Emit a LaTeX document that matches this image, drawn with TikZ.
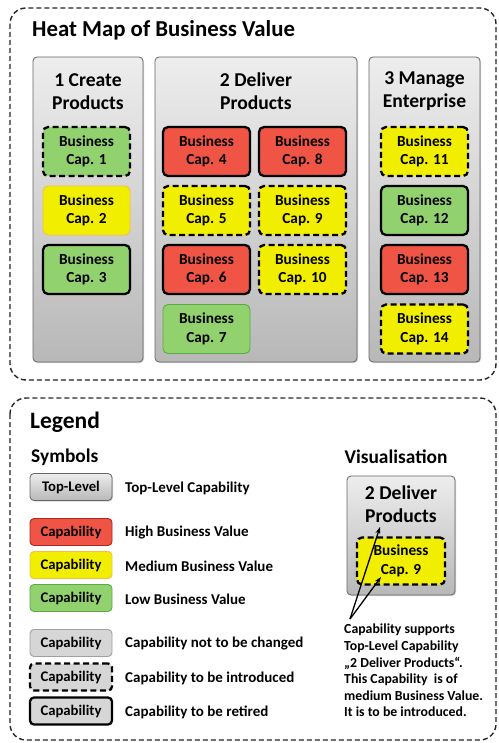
\documentclass[tikz,border=0pt]{standalone}
\usepackage{fontspec}
\setmainfont{Carlito}
\usetikzlibrary{arrows.meta,shadows}
\definecolor{hvred}{RGB}{240,84,68}
\definecolor{hvredline}{RGB}{170,40,30}
\definecolor{mvyellow}{RGB}{242,238,0}
\definecolor{mvyellowline}{RGB}{245,190,70}
\definecolor{lvgreen}{RGB}{146,210,110}
\definecolor{lvgreenline}{RGB}{90,170,70}
\definecolor{capgray}{RGB}{214,214,214}
\definecolor{capgrayline}{RGB}{160,160,160}
\tikzset{
  fs/.style n args={2}{font=\bfseries\fontsize{#1}{#2}\selectfont},
  frame/.style={draw=black!85, line width=1.4pt, dash pattern=on 5pt off 3pt, rounded corners=16pt},
  column/.style={draw=black!60, line width=0.8pt, rounded corners=4pt, top color=black!7, bottom color=black!28,
     drop shadow={shadow xshift=1pt, shadow yshift=-1pt, opacity=0.35}},
  capbox/.style={rounded corners=5pt, minimum width=87pt, minimum height=49pt, align=center, inner sep=0pt,
     font=\bfseries\fontsize{15.3}{18.5}\selectfont},
  legbox/.style={rounded corners=4pt, minimum width=82pt, minimum height=27pt, inner sep=0pt,
     font=\bfseries\fontsize{14.7}{16}\selectfont},
  fillred/.style={fill=hvred}, fillyel/.style={fill=mvyellow}, fillgrn/.style={fill=lvgreen}, fillgry/.style={fill=capgray},
  keepred/.style={fillred, draw=hvredline, line width=0.9pt},
  keepyel/.style={fillyel, draw=mvyellowline, line width=0.9pt},
  keepgrn/.style={fillgrn, draw=lvgreenline, line width=0.9pt},
  keepgry/.style={fillgry, draw=capgrayline, line width=0.9pt},
  intro/.style={draw=black, line width=2.3pt, dash pattern=on 6pt off 3.5pt},
  retire/.style={draw=black, line width=2.3pt},
  lbl/.style={anchor=west, inner sep=0pt, font=\bfseries\fontsize{15}{17}\selectfont},
  note/.style={anchor=north west, align=left, inner sep=0pt, font=\bfseries\fontsize{13.8}{16.6}\selectfont},
  pointer/.style={line width=1.3pt, -{Stealth[length=7pt,width=5pt]}}
}
\begin{document}
\begin{tikzpicture}[x=1pt,y=-1pt]
\useasboundingbox (0,0) rectangle (498,743);
\fill[white] (0,0) rectangle (498,743);

% ---------- heat map ----------
\draw[frame] (10,8) rectangle (496,380);
\node[fs={22.8}{26}, anchor=west, inner sep=0pt] (title) at (32,30) {Heat Map of Business Value};

\draw[column] (33,57) rectangle (143,362);
\draw[column] (155,57) rectangle (357,362);
\draw[column] (369,57) rectangle (480,362);

\node[fs={19.6}{23}, align=center, inner sep=0pt] (col1) at (88,91.5) {1 Create\\Products};
\node[fs={19.6}{23}, align=center, inner sep=0pt] (col2) at (256,91.5) {2 Deliver\\Products};
\node[fs={19.6}{23}, align=center, inner sep=0pt] (col3) at (424.5,91.5) {3 Manage\\Enterprise};

% column 1
\node[capbox, fillgrn, intro]  (c1)  at (86.5,151.5) {Business\\Cap. 1};
\node[capbox, keepyel]         (c2)  at (86.5,210.5) {Business\\Cap. 2};
\node[capbox, fillgrn, retire] (c3)  at (86.5,269.5) {Business\\Cap. 3};
% column 2
\node[capbox, fillred, retire] (c4)  at (206.5,151.5) {Business\\Cap. 4};
\node[capbox, fillyel, intro]  (c5)  at (206.5,210.5) {Business\\Cap. 5};
\node[capbox, fillred, retire] (c6)  at (206.5,269.5) {Business\\Cap. 6};
\node[capbox, keepgrn]         (c7)  at (206.5,329)   {Business\\Cap. 7};
\node[capbox, fillred, retire] (c8)  at (302.5,151.5) {Business\\Cap. 8};
\node[capbox, fillyel, intro]  (c9)  at (302.5,210.5) {Business\\Cap. 9};
\node[capbox, fillyel, intro]  (c10) at (302.5,269.5) {Business\\Cap. 10};
% column 3
\node[capbox, fillyel, intro]  (c11) at (424.5,151.5) {Business\\Cap. 11};
\node[capbox, fillgrn, retire] (c12) at (424.5,210.5) {Business\\Cap. 12};
\node[capbox, fillred, retire] (c13) at (424.5,269.5) {Business\\Cap. 13};
\node[capbox, fillyel, intro]  (c14) at (424.5,329)   {Business\\Cap. 14};

% ---------- legend ----------
\draw[frame] (10,398) rectangle (496,740);
\node[fs={23.5}{27}, anchor=west, inner sep=0pt] (legend) at (30,422) {Legend};
\node[fs={19.4}{22}, anchor=west, inner sep=0pt] (symbols) at (31,457) {Symbols};

\node[legbox, column] (ltop) at (71,487) {Top-Level};
\node[legbox, keepred] (lhigh) at (71,532) {Capability};
\node[legbox, keepyel] (lmed)  at (71,565) {Capability};
\node[legbox, keepgrn] (llow)  at (71,598) {Capability};
\node[legbox, keepgry] (lkeep) at (71,643) {Capability};
\node[legbox, fillgry, intro]  (lintro)  at (71,677) {Capability};
\node[legbox, fillgry, retire] (lretire) at (71,711) {Capability};

\node[lbl] (ttop)    at (125,488) {Top-Level Capability};
\node[lbl] (thigh)   at (125,533) {High Business Value};
\node[lbl] (tmed)    at (125,566) {Medium Business Value};
\node[lbl] (tlow)    at (125,599) {Low Business Value};
\node[lbl] (tkeep)   at (125,644) {Capability not to be changed};
\node[lbl] (tintro)  at (125,678) {Capability to be introduced};
\node[lbl] (tretire) at (125,712) {Capability to be retired};

% visualisation example
\node[fs={19.4}{22}, inner sep=0pt] (vis) at (396,457) {Visualisation};
\draw[column] (347,476) rectangle (455,595);
\node[fs={19.6}{23}, align=center, inner sep=0pt] (vtop) at (401,504) {2 Deliver\\Products};
\node[capbox, fillyel, intro, minimum width=88pt, minimum height=47pt] (vcap) at (401,561) {Business\\Cap. 9};

\coordinate (vfrom) at (350,619);
\coordinate (vto1) at (380,527);
\coordinate (vto2) at (381,577);
\draw[pointer] (vfrom) -- (vto1);
\draw[pointer] (vfrom) -- (vto2);

\node[note] (vnote) at (344,624) {Capability supports\\Top-Level Capability\\\char"201E 2 Deliver Products\char"201C.\\This Capability~ is of\\medium Business Value.\\It is to be introduced.};
\end{tikzpicture}
\end{document}
